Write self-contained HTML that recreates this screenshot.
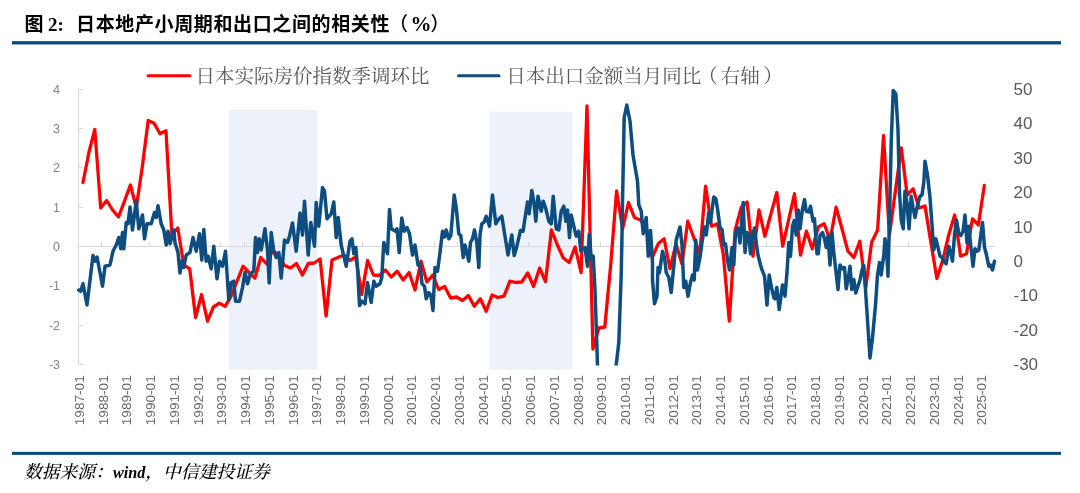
<!DOCTYPE html>
<html lang="zh"><head><meta charset="utf-8"><title>图 2</title>
<style>
html,body{margin:0;padding:0;background:#fff;}
body{width:1080px;height:493px;overflow:hidden;position:relative;}
svg{position:absolute;left:0;top:0;display:block;}
.title{font-family:"Liberation Sans","Noto Sans CJK SC",sans-serif;font-weight:700;font-size:19px;fill:#000;}
.tnum{font-family:"Liberation Serif","Noto Serif CJK SC",serif;font-weight:700;font-size:19px;fill:#000;}
.leg{font-family:"Liberation Serif","Noto Serif CJK SC",serif;font-weight:400;font-size:19.5px;fill:#595959;}
.yl{font-family:"Liberation Sans","DejaVu Sans",sans-serif;font-size:12.5px;fill:#858585;text-anchor:end;}
.yr{font-family:"Liberation Sans","DejaVu Sans",sans-serif;font-size:17px;fill:#595959;text-anchor:start;}
.xl{font-family:"Liberation Sans","DejaVu Sans",sans-serif;font-size:13.6px;fill:#6b6b6b;text-anchor:end;}
.src{font-family:"Liberation Serif","Noto Serif CJK SC",serif;font-style:italic;font-weight:500;font-size:17.8px;fill:#000;}
</style></head><body>
<svg width="1080" height="493" viewBox="0 0 1080 493">
<rect x="0" y="0" width="1080" height="493" fill="#ffffff"/>

<text class="title" x="24.5" y="30.5" id="t1">图 <tspan class="tnum" x="48">2: </tspan><tspan x="76" style="letter-spacing:0.625px">日本地产小周期和出口之间的相关性</tspan><tspan x="389" style="font-weight:500">（</tspan><tspan class="tnum" x="410.5" style="font-size:21px">%</tspan><tspan x="430.5" style="font-weight:500">）</tspan></text>
<rect x="12" y="41.15" width="1049" height="3.3" fill="#074a7d"/>
<rect x="12" y="451.85" width="1049" height="3" fill="#074a7d"/>
<rect x="228.8" y="110" width="88.7" height="259.5" fill="#edf1f9"/>
<rect x="489.3" y="111.7" width="83" height="257.8" fill="#edf1f9"/>
<g stroke="#d9d9d9" stroke-width="1" fill="none" shape-rendering="crispEdges">
<line x1="78.5" y1="89.3" x2="78.5" y2="364.6"/>
<line x1="78.5" y1="364.6" x2="82.5" y2="364.6"/>
<line x1="78.5" y1="325.3" x2="82.5" y2="325.3"/>
<line x1="78.5" y1="285.9" x2="82.5" y2="285.9"/>
<line x1="78.5" y1="246.6" x2="82.5" y2="246.6"/>
<line x1="78.5" y1="207.3" x2="82.5" y2="207.3"/>
<line x1="78.5" y1="167.9" x2="82.5" y2="167.9"/>
<line x1="78.5" y1="128.6" x2="82.5" y2="128.6"/>
<line x1="78.5" y1="89.3" x2="82.5" y2="89.3"/>
<line x1="78.5" y1="246.6" x2="995" y2="246.6"/>
<line x1="78.2" y1="246.6" x2="78.2" y2="242.1"/>
<line x1="101.9" y1="246.6" x2="101.9" y2="242.1"/>
<line x1="125.6" y1="246.6" x2="125.6" y2="242.1"/>
<line x1="149.4" y1="246.6" x2="149.4" y2="242.1"/>
<line x1="173.1" y1="246.6" x2="173.1" y2="242.1"/>
<line x1="196.8" y1="246.6" x2="196.8" y2="242.1"/>
<line x1="220.5" y1="246.6" x2="220.5" y2="242.1"/>
<line x1="244.2" y1="246.6" x2="244.2" y2="242.1"/>
<line x1="268.0" y1="246.6" x2="268.0" y2="242.1"/>
<line x1="291.7" y1="246.6" x2="291.7" y2="242.1"/>
<line x1="315.4" y1="246.6" x2="315.4" y2="242.1"/>
<line x1="339.1" y1="246.6" x2="339.1" y2="242.1"/>
<line x1="362.8" y1="246.6" x2="362.8" y2="242.1"/>
<line x1="386.6" y1="246.6" x2="386.6" y2="242.1"/>
<line x1="410.3" y1="246.6" x2="410.3" y2="242.1"/>
<line x1="434.0" y1="246.6" x2="434.0" y2="242.1"/>
<line x1="457.7" y1="246.6" x2="457.7" y2="242.1"/>
<line x1="481.4" y1="246.6" x2="481.4" y2="242.1"/>
<line x1="505.2" y1="246.6" x2="505.2" y2="242.1"/>
<line x1="528.9" y1="246.6" x2="528.9" y2="242.1"/>
<line x1="552.6" y1="246.6" x2="552.6" y2="242.1"/>
<line x1="576.3" y1="246.6" x2="576.3" y2="242.1"/>
<line x1="600.0" y1="246.6" x2="600.0" y2="242.1"/>
<line x1="623.8" y1="246.6" x2="623.8" y2="242.1"/>
<line x1="647.5" y1="246.6" x2="647.5" y2="242.1"/>
<line x1="671.2" y1="246.6" x2="671.2" y2="242.1"/>
<line x1="694.9" y1="246.6" x2="694.9" y2="242.1"/>
<line x1="718.6" y1="246.6" x2="718.6" y2="242.1"/>
<line x1="742.4" y1="246.6" x2="742.4" y2="242.1"/>
<line x1="766.1" y1="246.6" x2="766.1" y2="242.1"/>
<line x1="789.8" y1="246.6" x2="789.8" y2="242.1"/>
<line x1="813.5" y1="246.6" x2="813.5" y2="242.1"/>
<line x1="837.2" y1="246.6" x2="837.2" y2="242.1"/>
<line x1="861.0" y1="246.6" x2="861.0" y2="242.1"/>
<line x1="884.7" y1="246.6" x2="884.7" y2="242.1"/>
<line x1="908.4" y1="246.6" x2="908.4" y2="242.1"/>
<line x1="932.1" y1="246.6" x2="932.1" y2="242.1"/>
<line x1="955.8" y1="246.6" x2="955.8" y2="242.1"/>
<line x1="979.6" y1="246.6" x2="979.6" y2="242.1"/>
</g>
<text class="yl" x="60" y="369.1">-3</text>
<text class="yl" x="60" y="329.8">-2</text>
<text class="yl" x="60" y="290.4">-1</text>
<text class="yl" x="60" y="251.1">0</text>
<text class="yl" x="60" y="211.8">1</text>
<text class="yl" x="60" y="172.4">2</text>
<text class="yl" x="60" y="133.1">3</text>
<text class="yl" x="60" y="93.8">4</text>
<text class="yr" x="1013.5" y="370.3">-30</text>
<text class="yr" x="1013.5" y="335.8">-20</text>
<text class="yr" x="1013.5" y="301.4">-10</text>
<text class="yr" x="1013.5" y="266.9">0</text>
<text class="yr" x="1013.5" y="232.5">10</text>
<text class="yr" x="1013.5" y="198.0">20</text>
<text class="yr" x="1013.5" y="163.6">30</text>
<text class="yr" x="1013.5" y="129.1">40</text>
<text class="yr" x="1013.5" y="94.7">50</text>
<text class="xl" transform="translate(83.9,375.3) rotate(-90)">1987-01</text>
<text class="xl" transform="translate(107.6,375.3) rotate(-90)">1988-01</text>
<text class="xl" transform="translate(131.4,375.3) rotate(-90)">1989-01</text>
<text class="xl" transform="translate(155.1,375.3) rotate(-90)">1990-01</text>
<text class="xl" transform="translate(178.9,375.3) rotate(-90)">1991-01</text>
<text class="xl" transform="translate(202.6,375.3) rotate(-90)">1992-01</text>
<text class="xl" transform="translate(226.4,375.3) rotate(-90)">1993-01</text>
<text class="xl" transform="translate(250.1,375.3) rotate(-90)">1994-01</text>
<text class="xl" transform="translate(273.9,375.3) rotate(-90)">1995-01</text>
<text class="xl" transform="translate(297.6,375.3) rotate(-90)">1996-01</text>
<text class="xl" transform="translate(321.4,375.3) rotate(-90)">1997-01</text>
<text class="xl" transform="translate(345.1,375.3) rotate(-90)">1998-01</text>
<text class="xl" transform="translate(368.9,375.3) rotate(-90)">1999-01</text>
<text class="xl" transform="translate(392.6,375.3) rotate(-90)">2000-01</text>
<text class="xl" transform="translate(416.4,375.3) rotate(-90)">2001-01</text>
<text class="xl" transform="translate(440.1,375.3) rotate(-90)">2002-01</text>
<text class="xl" transform="translate(463.9,375.3) rotate(-90)">2003-01</text>
<text class="xl" transform="translate(487.6,375.3) rotate(-90)">2004-01</text>
<text class="xl" transform="translate(511.4,375.3) rotate(-90)">2005-01</text>
<text class="xl" transform="translate(535.1,375.3) rotate(-90)">2006-01</text>
<text class="xl" transform="translate(558.9,375.3) rotate(-90)">2007-01</text>
<text class="xl" transform="translate(582.6,375.3) rotate(-90)">2008-01</text>
<text class="xl" transform="translate(606.4,375.3) rotate(-90)">2009-01</text>
<text class="xl" transform="translate(630.1,375.3) rotate(-90)">2010-01</text>
<text class="xl" transform="translate(653.9,375.3) rotate(-90)">2011-01</text>
<text class="xl" transform="translate(677.6,375.3) rotate(-90)">2012-01</text>
<text class="xl" transform="translate(701.3,375.3) rotate(-90)">2013-01</text>
<text class="xl" transform="translate(725.1,375.3) rotate(-90)">2014-01</text>
<text class="xl" transform="translate(748.8,375.3) rotate(-90)">2015-01</text>
<text class="xl" transform="translate(772.6,375.3) rotate(-90)">2016-01</text>
<text class="xl" transform="translate(796.3,375.3) rotate(-90)">2017-01</text>
<text class="xl" transform="translate(820.1,375.3) rotate(-90)">2018-01</text>
<text class="xl" transform="translate(843.8,375.3) rotate(-90)">2019-01</text>
<text class="xl" transform="translate(867.6,375.3) rotate(-90)">2020-01</text>
<text class="xl" transform="translate(891.3,375.3) rotate(-90)">2021-01</text>
<text class="xl" transform="translate(915.1,375.3) rotate(-90)">2022-01</text>
<text class="xl" transform="translate(938.8,375.3) rotate(-90)">2023-01</text>
<text class="xl" transform="translate(962.6,375.3) rotate(-90)">2024-01</text>
<text class="xl" transform="translate(986.3,375.3) rotate(-90)">2025-01</text>
<line x1="148" y1="75.8" x2="190" y2="75.8" stroke="#ff0000" stroke-width="3" stroke-linecap="round"/>
<text class="leg" x="195.4" y="83" id="l1">日本实际房价指数季调环比</text>
<line x1="458.5" y1="75.8" x2="499" y2="75.8" stroke="#0e4d80" stroke-width="3" stroke-linecap="round"/>
<text class="leg" x="506.2" y="83" id="l2">日本出口金额当月同比<tspan dx="-3">（</tspan><tspan dx="3">右轴</tspan><tspan dx="3.5">）</tspan></text>
<defs><clipPath id="plot"><rect x="70" y="80" width="940" height="285.6"/></clipPath></defs>
<g clip-path="url(#plot)">
<polyline fill="none" stroke="#ff0000" stroke-width="3.3" stroke-linejoin="round" stroke-linecap="round" points="83.0,182.5 88.9,152.5 94.8,129.5 100.7,208.0 106.7,200.5 112.6,210.0 118.5,217.0 124.5,201.2 130.4,185.0 136.3,207.5 142.2,167.5 148.2,120.5 154.1,123.2 160.0,133.8 166.0,130.8 171.9,235.0 177.8,228.0 183.8,265.0 189.7,268.8 195.6,317.5 201.6,294.5 207.5,321.2 213.4,307.0 219.3,303.2 225.3,306.2 231.2,296.0 237.1,281.0 243.1,266.2 249.0,272.5 254.9,278.0 260.8,257.5 266.8,264.0 272.7,250.0 278.6,256.0 284.6,265.5 290.5,268.0 296.4,263.5 302.4,275.0 308.3,263.5 314.2,263.0 320.1,259.0 326.1,316.2 332.0,260.0 337.9,257.5 343.9,255.0 349.8,260.5 355.7,257.0 361.7,294.5 367.6,260.5 373.5,275.0 379.4,275.5 385.4,270.0 391.3,277.0 397.2,271.2 403.2,280.0 409.1,272.5 415.0,290.0 421.0,261.2 426.9,282.0 432.8,275.0 438.7,289.5 444.7,286.5 450.6,298.0 456.5,297.0 462.5,300.5 468.4,295.5 474.3,306.2 480.3,298.8 486.2,311.2 492.1,295.0 498.0,297.5 504.0,296.2 509.9,281.2 515.8,282.5 521.8,282.0 527.7,273.0 533.6,286.5 539.6,268.0 545.5,281.5 551.4,230.0 557.4,245.0 563.3,258.0 569.2,262.5 575.1,247.0 581.1,272.5 587.0,106.0 592.9,349.0 598.9,328.0 604.8,327.0 610.7,265.0 616.6,191.0 622.6,228.8 628.5,202.5 634.4,217.5 640.4,220.0 646.3,227.5 652.2,257.5 658.2,243.8 664.1,238.8 670.0,268.8 676.0,243.8 681.9,263.8 687.8,221.2 693.7,237.5 699.7,253.8 705.6,186.2 711.5,226.2 717.5,223.8 723.4,255.0 729.3,321.2 735.2,230.0 741.2,207.5 747.1,202.0 753.0,256.2 759.0,210.0 764.9,236.2 770.8,214.5 776.8,192.5 782.7,246.2 788.6,220.0 794.5,193.8 800.5,255.0 806.4,231.2 812.3,248.8 818.3,227.0 824.2,223.8 830.1,240.0 836.1,207.2 842.0,228.8 847.9,251.2 853.9,257.5 859.8,241.2 865.7,288.0 871.6,242.5 877.6,230.0 883.5,135.5 889.4,235.0 895.4,191.0 901.3,148.0 907.2,195.0 913.1,188.8 919.1,208.0 925.0,206.0 930.9,242.5 936.9,278.5 942.8,260.0 948.7,235.0 954.7,215.0 960.6,256.2 966.5,253.8 972.5,218.8 978.4,225.0 984.3,185.5"/>
<polyline fill="none" stroke="#0e4d80" stroke-width="3.5" stroke-linejoin="round" stroke-linecap="round" points="78.8,290.0 80.8,291.2 83.0,283.8 87.0,305.0 93.0,255.5 95.0,261.2 97.0,257.0 100.0,272.5 102.5,286.2 105.0,266.2 110.0,265.0 113.0,251.2 116.2,245.0 118.8,237.5 120.8,248.8 122.5,232.5 123.8,248.8 126.2,222.5 128.0,223.8 130.0,207.0 132.5,230.0 136.2,201.2 138.8,228.8 142.5,215.0 144.5,238.8 147.0,223.8 151.2,223.8 154.5,212.5 156.2,217.5 158.0,205.8 161.2,223.8 163.8,230.0 166.2,245.0 168.0,231.2 170.0,243.8 173.8,230.0 175.0,242.5 178.0,252.5 180.0,273.0 182.0,261.2 183.8,267.5 186.2,255.0 190.0,252.5 193.0,237.5 196.2,251.2 199.5,233.8 201.8,260.0 203.8,229.5 206.2,261.2 208.2,256.2 211.2,268.8 213.8,246.2 217.0,278.8 219.5,261.2 222.5,266.2 225.5,251.2 228.8,300.0 231.2,282.5 233.8,281.2 235.5,301.2 239.5,301.2 242.5,287.5 245.0,272.5 247.5,283.8 250.5,273.8 253.8,271.2 255.5,237.5 257.5,252.5 259.2,238.8 261.2,250.0 265.0,228.8 267.5,250.0 269.2,283.0 271.2,232.5 273.8,251.2 276.2,257.5 278.8,252.5 281.2,278.0 284.5,240.0 287.5,242.5 289.5,236.2 292.5,223.0 296.2,251.2 300.0,213.0 302.5,235.0 304.5,201.2 308.2,255.0 310.8,222.5 314.5,246.2 316.2,202.5 318.8,226.2 322.5,187.5 324.5,191.2 327.0,218.8 331.2,213.8 333.8,202.0 336.2,237.5 338.2,217.5 341.2,245.0 343.8,256.2 346.2,266.2 350.0,241.2 352.0,238.8 353.8,253.8 355.8,247.5 357.5,267.5 359.5,305.5 362.0,301.2 365.0,303.8 367.5,282.5 371.2,302.5 373.8,281.2 376.2,286.2 380.0,283.8 381.8,277.5 382.5,265.0 383.8,242.5 387.5,253.8 389.5,209.5 391.2,228.8 395.5,231.2 397.0,228.8 399.2,252.5 401.8,218.0 404.2,231.2 407.0,227.5 409.5,233.8 412.5,255.0 415.0,245.0 418.0,265.0 420.0,263.8 422.0,283.8 424.5,286.2 426.2,298.8 428.8,292.5 430.8,295.0 433.0,310.5 435.0,267.5 437.5,271.2 440.0,252.5 442.5,231.2 444.5,237.0 446.2,230.0 448.8,238.8 450.8,235.5 454.2,195.0 456.2,207.5 458.8,233.8 460.8,235.5 463.2,257.5 465.0,245.0 468.8,261.2 470.5,242.5 472.5,238.8 474.5,230.0 476.8,242.5 478.8,267.5 480.0,235.0 481.8,223.8 484.2,222.0 486.2,216.2 489.5,226.2 492.5,195.0 495.8,223.8 498.0,220.0 501.8,216.2 505.0,236.2 508.0,255.0 511.8,235.0 514.2,255.5 516.2,248.8 520.5,230.5 523.0,231.2 527.5,202.0 529.2,213.8 531.8,190.5 533.8,201.2 535.8,221.2 538.0,196.2 541.2,211.2 543.2,201.2 545.5,207.5 548.8,221.2 551.2,223.8 553.2,196.2 556.2,228.8 558.8,230.0 561.2,211.2 563.8,206.2 565.8,221.2 567.5,210.0 569.5,237.5 571.2,215.0 573.8,226.2 576.2,236.2 578.8,231.2 580.8,251.2 582.5,248.8 585.0,247.5 587.5,266.2 589.2,234.5 591.2,258.8 593.2,256.2 595.0,290.0 597.5,365.0 598.0,380.0"/>
<polyline fill="none" stroke="#0e4d80" stroke-width="3.5" stroke-linejoin="round" stroke-linecap="round" points="615.5,380.0 616.2,365.0 618.8,342.5 621.2,275.0 622.0,235.0 622.5,202.5 624.2,117.5 626.8,105.0 630.0,121.2 633.0,155.0 637.5,181.2 638.8,205.0 641.2,211.2 643.2,233.8 646.2,217.5 648.2,256.2 650.5,230.5 652.5,262.5 652.5,280.0 654.5,303.8 657.0,296.2 658.0,267.5 659.5,272.5 662.5,251.2 664.5,257.5 666.2,272.5 668.8,277.5 671.2,292.5 673.8,266.2 676.2,240.0 680.0,227.0 682.0,245.0 683.8,287.5 685.8,281.2 688.0,296.2 690.5,282.5 692.5,275.0 694.2,280.0 695.8,240.0 697.5,270.0 700.0,257.5 702.0,242.5 704.5,227.0 706.2,235.0 708.8,212.5 710.5,222.5 712.0,210.0 713.8,197.0 715.8,198.8 717.5,208.8 720.0,227.5 722.0,229.5 723.8,245.0 725.5,243.8 727.5,260.0 729.5,270.0 732.0,247.5 733.8,265.0 735.5,232.5 738.0,228.0 740.0,243.0 743.2,202.5 745.0,252.5 747.0,232.5 748.8,234.5 750.5,253.8 752.5,236.2 754.5,228.0 756.2,242.5 758.0,255.0 760.5,265.0 762.5,271.2 764.5,276.2 767.0,305.0 769.2,275.0 771.2,286.2 773.8,297.5 775.0,298.8 776.8,287.5 779.2,309.5 782.5,285.0 785.0,296.2 787.0,272.5 788.8,242.5 790.5,256.2 792.5,226.2 794.2,220.5 796.2,235.0 798.2,210.0 800.0,228.8 802.5,208.8 804.5,199.5 806.2,211.2 808.8,212.0 810.5,206.2 813.0,221.2 814.5,218.8 817.0,253.8 818.2,253.8 820.0,235.5 822.5,232.5 824.5,238.8 826.2,247.5 828.0,236.2 830.0,265.0 832.0,232.5 833.8,252.5 835.8,270.0 838.0,289.5 840.0,265.0 842.5,268.8 844.5,267.5 846.2,288.8 848.0,280.0 850.0,266.2 851.8,289.5 853.8,279.5 855.8,293.0 857.5,287.5 860.0,280.0 862.0,270.0 863.8,265.5 865.0,282.5 867.0,312.5 870.0,358.0 872.5,337.5 875.5,305.0 877.5,275.0 879.5,262.5 881.2,275.0 883.8,255.0 885.0,238.8 886.2,245.0 888.0,276.2 889.5,220.0 891.2,142.5 893.2,90.5 895.8,93.8 898.0,130.0 899.5,192.5 901.2,220.0 903.2,228.8 905.0,191.2 907.0,202.5 909.0,228.8 911.2,196.2 913.0,207.5 915.0,217.5 917.5,205.0 920.0,196.2 922.0,195.0 923.8,182.5 925.0,161.2 927.5,175.0 930.0,197.5 932.0,225.0 933.8,250.0 935.8,238.8 938.0,247.5 940.0,256.2 942.0,257.5 943.8,261.2 946.2,263.8 948.8,246.2 950.5,252.5 952.5,261.2 954.5,235.0 956.5,220.0 958.8,233.8 960.8,235.5 963.0,231.2 965.0,215.0 967.0,243.0 968.8,226.2 970.8,246.2 973.0,266.2 975.0,248.8 977.0,251.2 978.8,250.0 980.8,235.0 982.5,222.5 984.5,247.5 986.2,253.8 988.8,266.2 990.5,265.0 992.5,270.0 994.5,261.2"/>
</g>
<text class="src" x="24" y="478" id="s1">数据来源：<tspan style="font-weight:700;font-size:16.2px">wind</tspan>，中信建投证券</text>
</svg></body></html>
